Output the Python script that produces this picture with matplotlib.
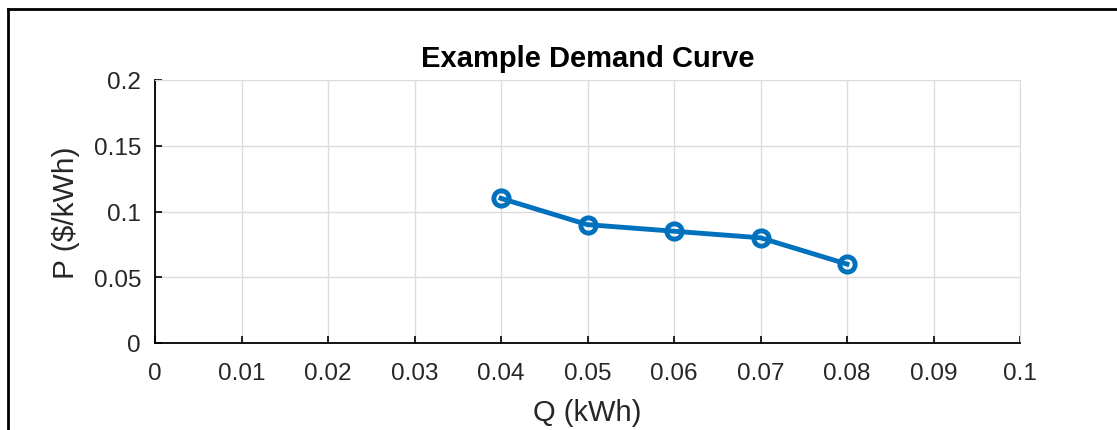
import matplotlib.pyplot as plt
from matplotlib.lines import Line2D

quantity = [0.04, 0.05, 0.06, 0.07, 0.08]
price = [0.11, 0.09, 0.085, 0.08, 0.06]
x_ticks = [0, 0.01, 0.02, 0.03, 0.04, 0.05, 0.06, 0.07, 0.08, 0.09, 0.1]
x_labels = ["0", "0.01", "0.02", "0.03", "0.04", "0.05", "0.06", "0.07", "0.08", "0.09", "0.1"]
y_ticks = [0, 0.05, 0.1, 0.15, 0.2]
y_labels = ["0", "0.05", "0.1", "0.15", "0.2"]

plt.rcParams['font.family'] = ['Liberation Sans', 'DejaVu Sans']

fig = plt.figure(figsize=(11.17, 4.31), dpi=100)
ax = fig.add_axes([155 / 1117, 1 - 344 / 431, 865 / 1117, 263 / 431])

ax.plot(quantity, price, color='#0072BD', linewidth=3.5, marker='o',
        markersize=11, markerfacecolor='none', markeredgewidth=3.5)

ax.set_xlim(0, 0.1)
ax.set_ylim(0, 0.2)
ax.set_xticks(x_ticks)
ax.set_xticklabels(x_labels)
ax.set_yticks(y_ticks)
ax.set_yticklabels(y_labels)
ax.grid(True, color='#dcdcdc', linewidth=1)
ax.set_axisbelow(True)
ax.tick_params(direction='in', length=5, width=1.2, labelsize=17.5,
               labelcolor='#262626')
ax.tick_params(axis='x', pad=13.5)
ax.tick_params(axis='y', pad=10)
for side in ['top', 'right']:
    ax.spines[side].set_color('#dcdcdc')
for side in ['left', 'bottom']:
    ax.spines[side].set_linewidth(1.3)

ax.set_title("Example Demand Curve", fontsize=21, fontweight='bold', pad=10)
ax.set_xlabel("Q (kWh)", fontsize=21, color='#262626', labelpad=10)
ax.set_ylabel("P ($/kWh)", fontsize=21.5, color='#262626', labelpad=10)

# outer frame, only top and left edges visible in the crop
fig.add_artist(Line2D([8 / 1117, 8 / 1117], [0, 1 - 10 / 431], color='black', linewidth=2))
fig.add_artist(Line2D([8 / 1117, 1], [1 - 10 / 431, 1 - 10 / 431], color='black', linewidth=2))

fig.savefig("out.png", dpi=100)
